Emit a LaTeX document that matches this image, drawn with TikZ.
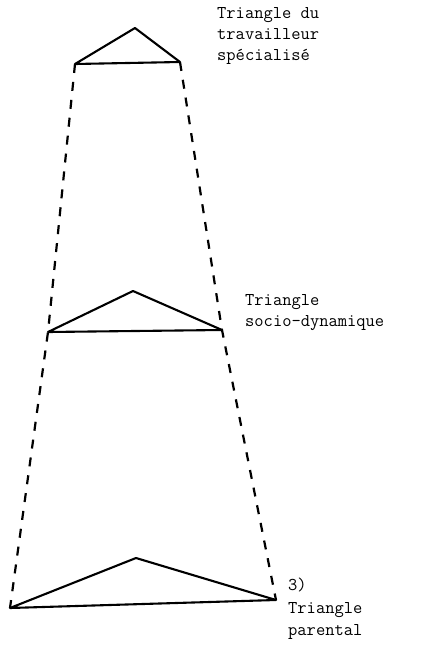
\documentclass[tikz,border=0pt]{standalone}
\begin{document}
\begin{tikzpicture}[x=1pt,y=-1pt,
  tri/.style={line width=2.1pt,line join=round},
  dashline/.style={line width=2.2pt,dash pattern=on 9pt off 9pt},
  lbl/.style={anchor=base west,inner sep=0pt,font=\ttfamily\fontsize{18}{22}\selectfont}]
\useasboundingbox[fill=white] (0,0) rectangle (421,646);
% top triangle
\coordinate (t1) at (75,64);
\coordinate (t2) at (135,28);
\coordinate (t3) at (180,62);
% middle triangle
\coordinate (m1) at (48,332);
\coordinate (m2) at (133,291);
\coordinate (m3) at (222,330);
% bottom triangle
\coordinate (b1) at (10,608);
\coordinate (b2) at (136,558);
\coordinate (b3) at (276,600);
\draw[tri] (t1) -- (t2) -- (t3) -- cycle;
\draw[tri] (m1) -- (m2) -- (m3) -- cycle;
\draw[tri] (b1) -- (b2) -- (b3) -- cycle;
\draw[dashline] (t1) -- (m1) -- (b1);
\draw[dashline] (t3) -- (m3) -- (b3);
% labels
\node[lbl] (l1) at (217,18) {Triangle du};
\node[lbl] (l2) at (217,39) {travailleur};
\node[lbl] (l3) at (217,60) {spécialisé};
\node[lbl] (l4) at (245,305) {Triangle};
\node[lbl] (l5) at (245,326) {socio-dynamique};
\node[lbl] (l6) at (288,590) {3)};
\node[lbl] (l7) at (288,613) {Triangle};
\node[lbl] (l8) at (288,635) {parental};
\end{tikzpicture}
\end{document}
